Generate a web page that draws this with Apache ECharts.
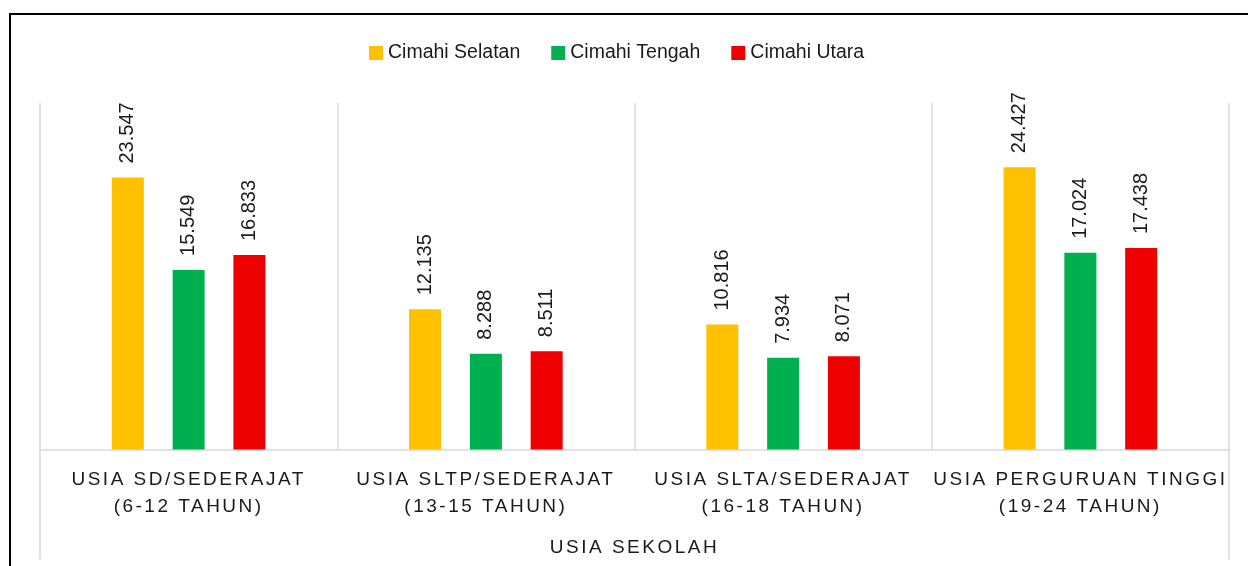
<!DOCTYPE html>
<html>
<head>
<meta charset="utf-8">
<script src="https://cdn.jsdelivr.net/npm/echarts@6/dist/echarts.min.js"></script>
<style>
  html, body { margin: 0; padding: 0; background: #fff; }
  #chart { width: 1248px; height: 566px; }
</style>
</head>
<body>
<div id="chart"></div>
<script>
  const categories = [
    'USIA SD/SEDERAJAT\n(6-12 TAHUN)',
    'USIA SLTP/SEDERAJAT\n(13-15 TAHUN)',
    'USIA SLTA/SEDERAJAT\n(16-18 TAHUN)',
    'USIA PERGURUAN TINGGI\n(19-24 TAHUN)'
  ]
  const outerCategory = ['USIA SEKOLAH']
  const seriesNames = ['Cimahi Selatan', 'Cimahi Tengah', 'Cimahi Utara']
  const cimahiSelatan = [23547, 12135, 10816, 24427]
  const cimahiTengah = [15549, 8288, 7934, 17024]
  const cimahiUtara = [16833, 8511, 8071, 17438]
  const colors = ['#FFC000', '#00B050', '#EE0000']

  const font = '"Liberation Sans", Arial, sans-serif'
  // axis labels get their own family list so they can be letter-spaced
  const axisFont = '"Liberation Sans", Helvetica, sans-serif'
  const gridLine = '#D9D9D9'

  // spaced-out caps on the category axis, like the original
  const origFillText = CanvasRenderingContext2D.prototype.fillText
  CanvasRenderingContext2D.prototype.fillText = function (t, x, y, w) {
    if ('letterSpacing' in this) {
      this.letterSpacing = this.font.indexOf('Helvetica') > -1 ? '2.5px' : '0px'
    }
    return w === undefined ? origFillText.call(this, t, x, y) : origFillText.call(this, t, x, y, w)
  }

  // 23547 -> 23.547
  const fmt = v => String(v).replace(/\B(?=(\d{3})+(?!\d))/g, '.')

  const makeSeries = (name, data, color) => ({
    name: name,
    type: 'bar',
    data: data,
    barWidth: 32,
    barGap: '90%',
    itemStyle: { color: color },
    label: {
      show: true,
      position: 'top',
      distance: 14,
      rotate: 90,
      align: 'left',
      verticalAlign: 'middle',
      color: '#1a1a1a',
      fontSize: 20,
      fontFamily: font,
      formatter: p => fmt(p.value)
    }
  })

  const myChart = echarts.init(document.getElementById('chart'))
  const option = {
    animation: false,
    color: colors,
    graphic: [
      {
        type: 'rect',
        shape: { x: 10, y: 14, width: 1400, height: 700 },
        style: { fill: 'none', stroke: '#000', lineWidth: 2 },
        silent: true
      }
    ],
    legend: {
      left: 369,
      top: 43,
      padding: 0,
      itemWidth: 14,
      itemHeight: 14,
      itemGap: 31,
      icon: 'rect',
      textStyle: { fontSize: 19.5, fontFamily: font, color: '#1a1a1a' },
      data: seriesNames
    },
    grid: {
      left: 40,
      right: 19,
      top: 103,
      bottom: 116.5
    },
    xAxis: [
      {
        type: 'category',
        position: 'bottom',
        data: categories,
        axisLine: { lineStyle: { color: gridLine, width: 1.5 } },
        axisTick: { show: false },
        splitLine: { show: true, interval: 0, lineStyle: { color: gridLine, width: 1.5 } },
        axisLabel: {
          interval: 0,
          margin: 17,
          fontSize: 19,
          lineHeight: 27,
          fontFamily: axisFont,
          color: '#1a1a1a'
        }
      },
      {
        type: 'category',
        position: 'bottom',
        data: outerCategory,
        axisLine: { show: false },
        axisTick: { show: true, length: 110, lineStyle: { color: gridLine, width: 1.5 } },
        axisLabel: {
          margin: 89,
          fontSize: 19,
          fontFamily: axisFont,
          color: '#1a1a1a'
        }
      }
    ],
    yAxis: {
      type: 'value',
      min: 0,
      max: 30000,
      show: false
    },
    series: [
      makeSeries(seriesNames[0], cimahiSelatan, colors[0]),
      makeSeries(seriesNames[1], cimahiTengah, colors[1]),
      makeSeries(seriesNames[2], cimahiUtara, colors[2])
    ]
  }
  myChart.setOption(option)
</script>
</body>
</html>
